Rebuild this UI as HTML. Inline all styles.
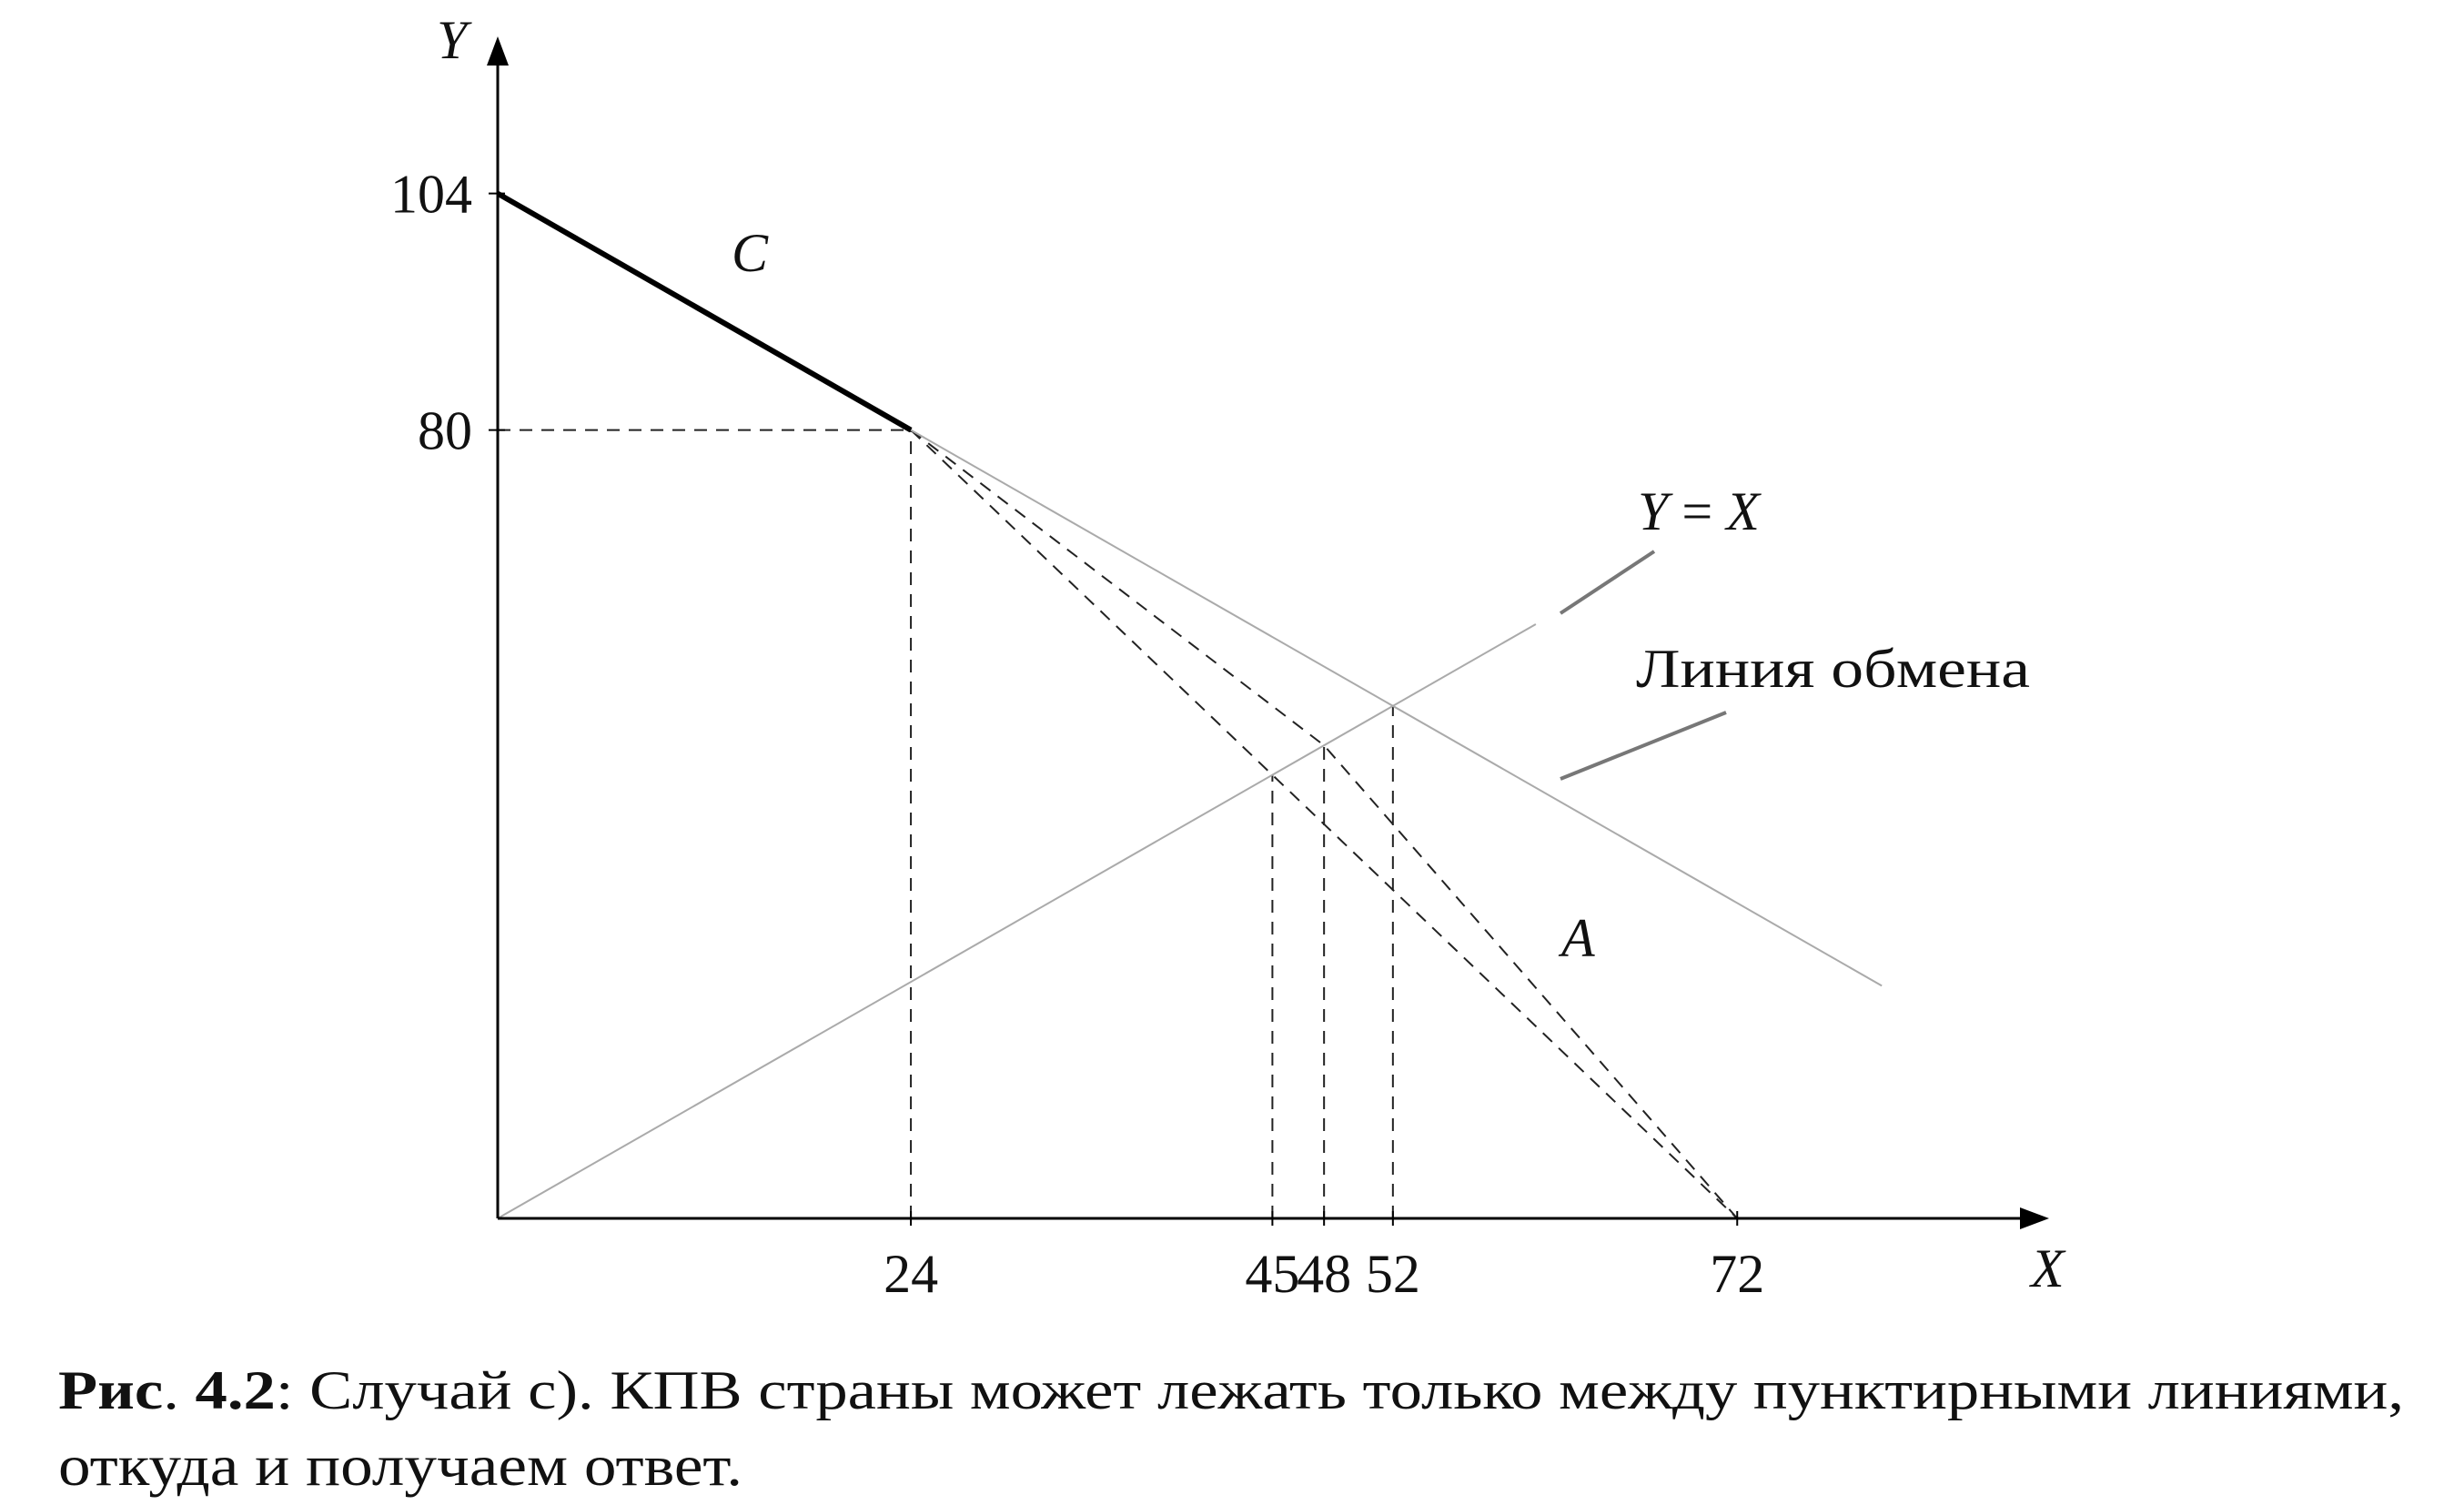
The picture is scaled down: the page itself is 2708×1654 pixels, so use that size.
<!DOCTYPE html>
<html><head><meta charset="utf-8"><style>
body{margin:0;background:#fff}
svg{display:block}
text{font-family:"Liberation Serif","DejaVu Serif",serif;fill:#111}
</style></head><body>
<svg id="chart" width="2708" height="1654" viewBox="0 0 2708 1654" xmlns="http://www.w3.org/2000/svg">
<g id="g"></g>
<text x="64" y="1548" font-size="60" textLength="2578" lengthAdjust="spacingAndGlyphs"><tspan font-weight="bold">Рис</tspan>. <tspan font-weight="bold">4.2</tspan>: Случай с). КПВ страны может лежать только между пунктирными линиями,</text>
<text x="64" y="1632" font-size="64" textLength="752" lengthAdjust="spacingAndGlyphs">откуда и получаем ответ.</text>
</svg>
<script>
const xTicks=[24,45,48,52,72];
const xTickLabels=["24","45","48","52","72"];
const yTicks=[104,80];
const yTickLabels=["104","80"];
const ppfC=[[0,104],[24,80]];
const exchangeLine=[[24,80],[80.4,23.6]];
const diagLine=[[0,0],[60.3,60.3]];
const dashOuter=[[24,80],[48,48],[72,0]];
const dashInner=[[24,80],[72,0]];
const vDash=[[24,80],[45,45],[48,48],[52,52]];
const X0=547,Y0=1339,XU=18.92,YU=10.83;
const sx=v=>X0+v*XU, sy=v=>Y0-v*YU;
const g=document.getElementById('g');
const NS='http://www.w3.org/2000/svg';
function mk(tag,attrs,name){const e=document.createElementNS(NS,tag);for(const k in attrs)e.setAttribute(k,attrs[k]);


g.appendChild(e);return e;}
function pl(pts,st,name){return mk('polyline',Object.assign({points:pts.map(p=>sx(p[0])+','+sy(p[1])).join(' '),fill:'none'},st),name);}
pl([[0,80],[24,80]],{stroke:'#222','stroke-width':2,'stroke-dasharray':'14,10'},'guide-y80');
vDash.forEach(p=>pl([[p[0],0],[p[0],p[1]]],{stroke:'#222','stroke-width':2,'stroke-dasharray':'14,10'},'guide-x'+p[0]));
pl(dashOuter,{stroke:'#222','stroke-width':2,'stroke-dasharray':'14,10'},'ppf-bound-outer');
pl(dashInner,{stroke:'#222','stroke-width':2,'stroke-dasharray':'14,10'},'ppf-bound-inner');
pl(exchangeLine,{stroke:'#aaa','stroke-width':2},'exchange-line');
pl(diagLine,{stroke:'#aaa','stroke-width':2},'y-equals-x-line');
pl(ppfC,{stroke:'#000','stroke-width':6},'ppf-country-c');
mk('line',{x1:1715,y1:674,x2:1818,y2:606,stroke:'#777','stroke-width':4},'pointer-y-equals-x');
mk('line',{x1:1715,y1:856,x2:1897,y2:783,stroke:'#777','stroke-width':4},'pointer-exchange-line');
mk('line',{x1:X0,y1:Y0,x2:2230,y2:Y0,stroke:'#000','stroke-width':3},'x-axis');
mk('polygon',{points:'2252,'+Y0+' 2220,'+(Y0-12)+' 2220,'+(Y0+12),fill:'#000'},'x-axis-arrow');
mk('line',{x1:X0,y1:Y0,x2:X0,y2:65,stroke:'#000','stroke-width':3},'y-axis');
mk('polygon',{points:X0+',40 '+(X0-12)+',72 '+(X0+12)+',72',fill:'#000'},'y-axis-arrow');
xTicks.forEach((v,i)=>{mk('line',{x1:sx(v),y1:Y0-8,x2:sx(v),y2:Y0+8,stroke:'#000','stroke-width':2},'x-tick-'+v);});
xTickLabels.forEach((t,i)=>{const e=mk('text',{x:sx(xTicks[i]),y:1420,'font-size':60,'text-anchor':'middle'},'x-tick-label-'+t);e.textContent=t;});
yTicks.forEach((v,i)=>{mk('line',{x1:X0-10,y1:sy(v),x2:X0+8,y2:sy(v),stroke:'#000','stroke-width':2},'y-tick-'+v);
const e=mk('text',{x:X0-28,y:sy(v)+21,'font-size':60,'text-anchor':'end'},'y-tick-label-'+yTickLabels[i]);e.textContent=yTickLabels[i];});
function lab(t,x,y,name,it){const e=mk('text',{x:x,y:y,'font-size':60,'font-style':it?'italic':'normal'},name);e.textContent=t;return e;}
lab('Y',480,64,'y-axis-title',1);
lab('X',2232,1414,'x-axis-title',1);
lab('C',804,298,'label-c',1);
lab('A',1716,1051,'label-a',1);
const yx=mk('text',{x:1800,y:582,'font-size':60},'label-y-equals-x');
yx.innerHTML='<tspan font-style="italic">Y</tspan> = <tspan font-style="italic">X</tspan>';
const le=lab('Линия обмена',1798,755,'label-exchange-line',0);
le.setAttribute('textLength','433');
le.setAttribute('lengthAdjust','spacingAndGlyphs');
</script>
</body></html>
